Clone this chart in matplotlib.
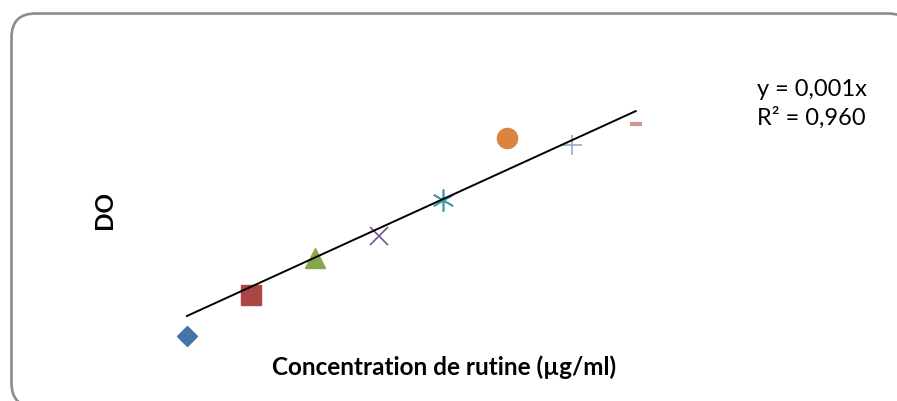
import numpy as np
import matplotlib.pyplot as plt
from matplotlib.patches import FancyBboxPatch

# concentrations (µg/ml) and optical density
conc = [25, 50, 75, 100, 125, 150, 175, 200]
do_vals = [0.008, 0.043, 0.0746, 0.0933, 0.124, 0.177, 0.171, 0.189]
markers = ["D", "s", "^", "x", (6, 2, 0), "o", "+", "_"]
msizes = [10, 14.5, 14.5, 13.5, 16, 14.5, 14.5, 8]
colors = ["#4572A7", "#AA4643", "#89A54E", "#71588F",
          "#4198AF", "#DB843D", "#93A9CF", "#D19392"]
slope = 0.001
r2_txt = "0,960"

W, H = 897, 401
fig = plt.figure(figsize=(W / 100, H / 100), dpi=100)

# frame layer in pixel units
bg = fig.add_axes([0, 0, 1, 1])
bg.set_xlim(0, W)
bg.set_ylim(H, 0)
bg.axis("off")
frame = FancyBboxPatch((11.5 + 24, 13.5 + 24), 912 - 11.5 - 48, 407 - 13.5 - 48,
                       boxstyle="round,pad=24", facecolor="white",
                       edgecolor="#8c8c8c", lw=1.9)
bg.add_patch(frame)

# data layer
ax = fig.add_axes([0, 0, 1, 1])
ax.patch.set_visible(False)
ax.set_xlim(-47.9, 301.9)
ax.set_ylim(-0.0476, 0.2949)
ax.axis("off")

for x, y, m, s, c in zip(conc, do_vals, markers, msizes, colors):
    if m in ("x", "+", (6, 2, 0)):
        ax.plot(x, y, marker=m, ms=s, color=c, mew=1.2, ls="none")
    elif m == "_":
        ax.plot(x, y, marker=m, ms=s, color=c, mew=3, ls="none")
    else:
        ax.plot(x, y, marker=m, ms=s, color=c, mec=c, ls="none")

xs = np.array([conc[0], conc[-1]])
ax.plot(xs, slope * xs, color="black", lw=1.4)

fam = ["Lato", "DejaVu Sans"]
fig.text(444 / W, 1 - 367 / H, "Concentration de rutine (µg/ml)",
         ha="center", va="center", fontsize=17.5, fontweight="bold", family=fam)
fig.text(104 / W, 1 - 210 / H, "DO", rotation=90, ha="center", va="center",
         fontsize=17.5, fontweight="bold", family=fam)
fig.text(757 / W, 1 - 89 / H, "y = 0,001x", ha="left", va="center",
         fontsize=17, family=fam)
fig.text(757 / W, 1 - 118 / H, "R² = " + r2_txt, ha="left", va="center",
         fontsize=17, family=fam)

fig.savefig("out.png", dpi=100)
